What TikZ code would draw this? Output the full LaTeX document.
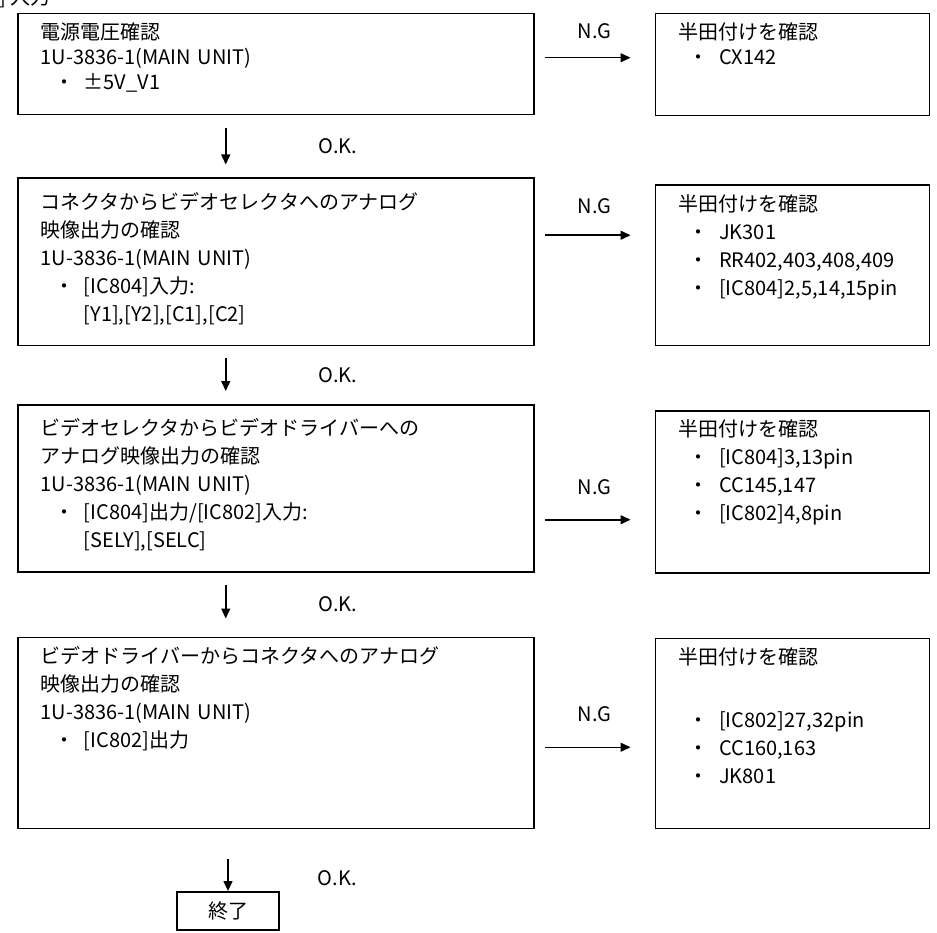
\documentclass[tikz,border=0pt]{standalone}
\usepackage{fontspec}
\setmainfont{Noto Sans CJK JP}
\usetikzlibrary{positioning,arrows.meta}
\newcommand{\lbul}{\hspace*{14pt}・\hspace{9pt}}
\newcommand{\rbul}{\hspace*{10pt}・\hspace{11pt}}

\begin{document}
\begin{tikzpicture}[
    x=1pt, y=1pt,
    box/.style={
        rectangle, draw, line width=1.5pt,
        anchor=north west, align=left,
        inner xsep=23pt, inner ysep=8pt, text height=18pt,
        font=\fontsize{20}{28}\selectfont
    },
    chk/.style={box, text width=470pt},
    sol/.style={box, text width=228pt},
    endbox/.style={
        rectangle, draw, line width=1.5pt,
        minimum width=102pt, minimum height=38pt, inner sep=0pt,
        font=\fontsize{20}{24}\selectfont
    },
    lbl/.style={font=\fontsize{20}{24}\selectfont, inner sep=3pt},
    arrow/.style={-{Triangle[length=10pt,width=9pt]}, line width=1.5pt}
]
\useasboundingbox (0,0) rectangle (937,-933);

\node[lbl, anchor=base west] (hdr) at (-4,-5) {] 入力};

\node[chk, font=\fontsize{20}{25}\selectfont, text depth=67pt] (chk1) at (17,-13) {電源電圧確認\\
1U-3836-1(MAIN UNIT)\\\lbul ±5V\_V1};

\node[chk, text height=23pt, text depth=128pt, below=62pt of chk1] (chk2) {コネクタからビデオセレクタへのアナログ\\
映像出力の確認\\1U-3836-1(MAIN UNIT)\\\lbul [IC804]入力:\\\hspace*{43pt}[Y1],[Y2],[C1],[C2]};

\node[chk, text height=23pt, text depth=128pt, below=58pt of chk2] (chk3) {ビデオセレクタからビデオドライバーへの\\
アナログ映像出力の確認\\1U-3836-1(MAIN UNIT)\\\lbul [IC804]出力/[IC802]入力:\\\hspace*{43pt}[SELY],[SELC]};

\node[chk, text depth=157pt, below=64pt of chk3] (chk4) {ビデオドライバーからコネクタへのアナログ\\
映像出力の確認\\1U-3836-1(MAIN UNIT)\\\lbul [IC802]出力};

\node[endbox, below=62pt of chk4.south west, xshift=211pt] (fin) {終了};

\node[sol, font=\fontsize{20}{25}\selectfont, text depth=68pt, right=120pt of chk1.north east, anchor=north west] (sol1) {半田付けを確認\\
\rbul CX142};

\node[sol, text depth=126pt, right=120pt of chk2.north east, anchor=north west, yshift=-7pt] (sol2) {半田付けを確認\\
\rbul JK301\\\rbul RR402,403,408,409\\\rbul [IC804]2,5,14,15pin};

\node[sol, text depth=128pt, right=120pt of chk3.north east, anchor=north west, yshift=-6pt] (sol3) {半田付けを確認\\
\rbul [IC804]3,13pin\\\rbul CC145,147\\\rbul [IC802]4,8pin};

\node[sol, text depth=156pt, right=120pt of chk4.north east, anchor=north west, yshift=-1pt] (sol4) {半田付けを確認\\[35pt]
\rbul [IC802]27,32pin\\\rbul CC160,163\\\rbul JK801};

\draw[arrow, shorten <=13pt, shorten >=13pt] ([xshift=-50pt]chk1.south) -- node[lbl, right=89pt] (ok1) {O.K.} ([xshift=-50pt]chk2.north);
\draw[arrow, shorten <=12pt, shorten >=13pt] ([xshift=-50pt]chk2.south) -- node[lbl, right=89pt] (ok2) {O.K.} ([xshift=-50pt]chk3.north);
\draw[arrow, shorten <=12pt, shorten >=18pt] ([xshift=-50pt]chk3.south) -- node[lbl, right=89pt] (ok3) {O.K.} ([xshift=-50pt]chk4.north);
\draw[arrow, shorten <=30pt] (fin.north |- chk4.south) -- node[lbl, pos=0.8, right=86pt] (ok4) {O.K.} (fin.north);

\draw[arrow, shorten <=10pt, shorten >=24pt] ([yshift=6.5pt]chk1.east) -- node[lbl, above=15pt] (ng1) {N.G} ([yshift=6.5pt]chk1.east -| sol1.west);
\draw[arrow, shorten <=10pt, shorten >=24pt] ([yshift=26.5pt]chk2.east) -- node[lbl, above=18pt] (ng2) {N.G} ([yshift=26.5pt]chk2.east -| sol2.west);
\draw[arrow, shorten <=10pt, shorten >=24pt] ([yshift=-31.5pt]chk3.east) -- node[lbl, above=21pt] (ng3) {N.G} ([yshift=-31.5pt]chk3.east -| sol3.west);
\draw[arrow, shorten <=10pt, shorten >=24pt] ([yshift=-14.5pt]chk4.east) -- node[lbl, above=22pt] (ng4) {N.G} ([yshift=-14.5pt]chk4.east -| sol4.west);

\end{tikzpicture}
\end{document}
